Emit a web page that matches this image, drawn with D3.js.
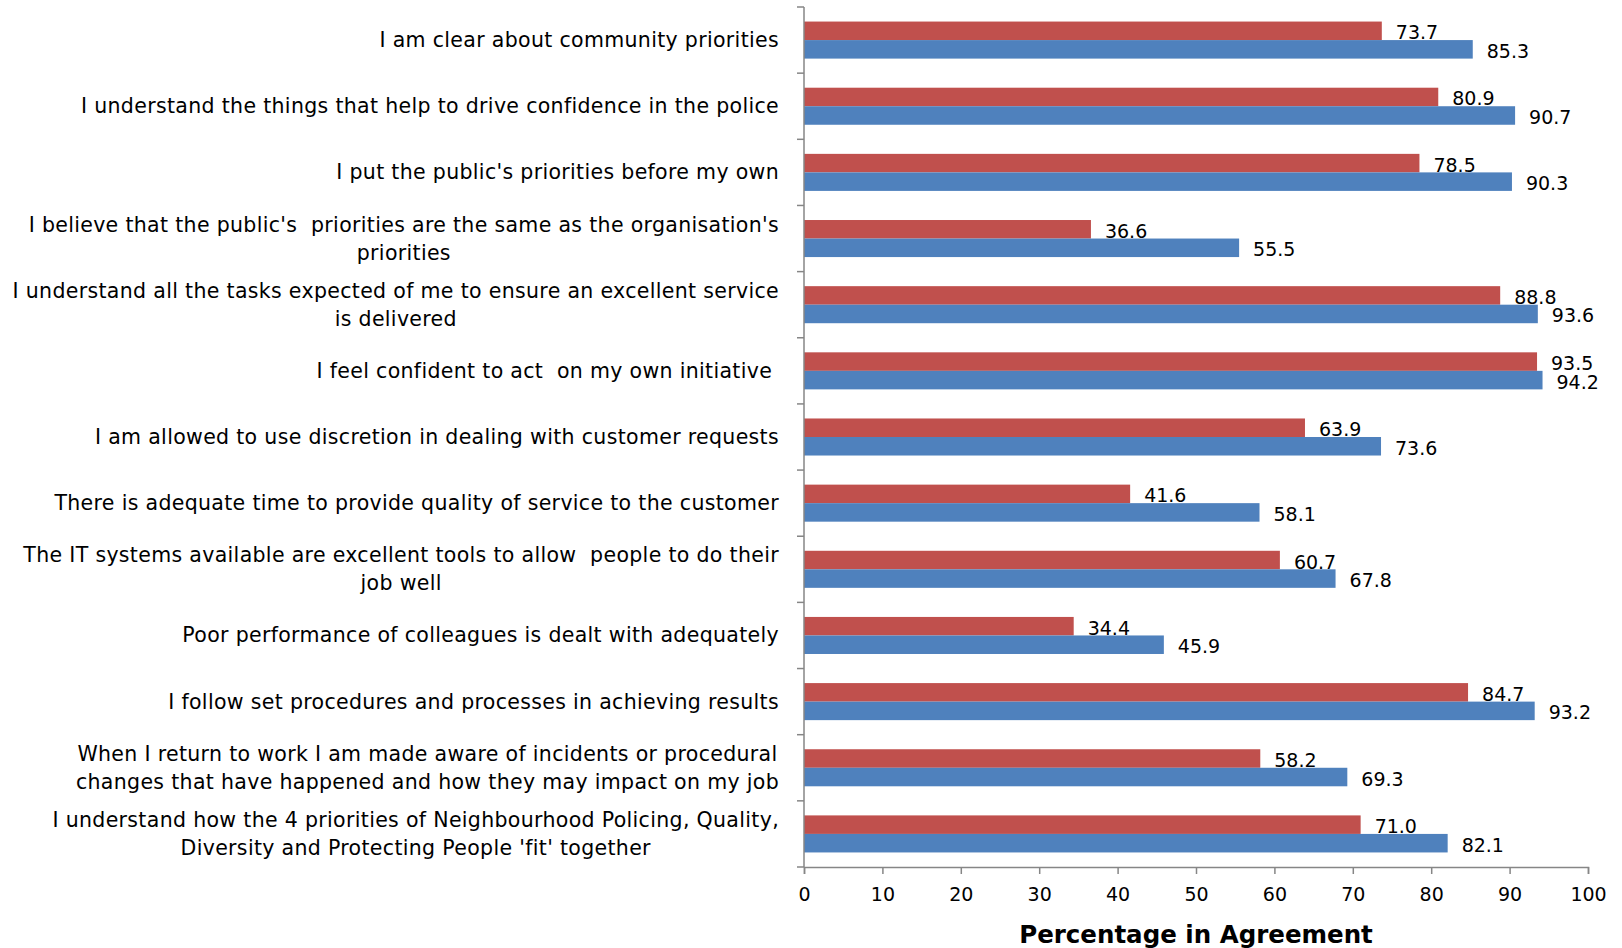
<!DOCTYPE html>
<html>
<head>
<meta charset="utf-8">
<script src="https://cdn.jsdelivr.net/npm/d3@7"></script>
<style>
  html, body { margin: 0; padding: 0; background: #fff; }
  svg { display: block; }
  text { font-family: "DejaVu Sans", Verdana, sans-serif; fill: #000; }
</style>
</head>
<body>
<svg id="chart" width="1622" height="948"></svg>
<script>
// ---- data ----
const categories = [
  ["I am clear about community priorities"],
  ["I understand the things that help to drive confidence in the police"],
  ["I put the public's priorities before my own"],
  ["I believe that the public's  priorities are the same as the organisation's", "priorities"],
  ["I understand all the tasks expected of me to ensure an excellent service", "is delivered"],
  ["I feel confident to act  on my own initiative "],
  ["I am allowed to use discretion in dealing with customer requests"],
  ["There is adequate time to provide quality of service to the customer"],
  ["The IT systems available are excellent tools to allow  people to do their", "job well"],
  ["Poor performance of colleagues is dealt with adequately"],
  ["I follow set procedures and processes in achieving results"],
  ["When I return to work I am made aware of incidents or procedural", "changes that have happened and how they may impact on my job"],
  ["I understand how the 4 priorities of Neighbourhood Policing, Quality,", "Diversity and Protecting People 'fit' together"]
];
const seriesNames = ["Series 1", "Series 2"];
const series1Values = [73.7, 80.9, 78.5, 36.6, 88.8, 93.5, 63.9, 41.6, 60.7, 34.4, 84.7, 58.2, 71.0];
const series2Values = [85.3, 90.7, 90.3, 55.5, 93.6, 94.2, 73.6, 58.1, 67.8, 45.9, 93.2, 69.3, 82.1];
const xTickValues = [0, 10, 20, 30, 40, 50, 60, 70, 80, 90, 100];
const xAxisTitle = "Percentage in Agreement";
const seriesColors = ["#C0504D", "#4F81BD"];

// ---- layout ----
const plot = { left: 804, right: 1588, top: 7, bottom: 867 };
const svg = d3.select("#chart");
const ids = categories.map((_, i) => i);

const x = d3.scaleLinear().domain([0, 100]).range([plot.left, plot.right]);
const y = d3.scaleBand().domain(ids).range([plot.top, plot.bottom])
  .paddingInner(0.44).paddingOuter(0.22);
const ySub = d3.scaleBand().domain(seriesNames).range([0, y.bandwidth()]);

const axisColor = "#868686";

// bars + labels, series by series (later series drawn over earlier labels)
const allValues = [series1Values, series2Values];
allValues.forEach((vals, si) => {
  const g = svg.append("g");
  g.selectAll("rect").data(vals).join("rect")
    .attr("x", x(0))
    .attr("y", (d, i) => y(i) + ySub(seriesNames[si]))
    .attr("width", d => x(d) - x(0))
    .attr("height", ySub.bandwidth())
    .attr("fill", seriesColors[si]);
  g.selectAll("text").data(vals).join("text")
    .attr("x", d => x(d) + 14)
    .attr("y", (d, i) => y(i) + ySub(seriesNames[si]) + ySub.bandwidth() / 2 + 1.5)
    .attr("dominant-baseline", "central")
    .style("font-size", "19px")
    .text(d => d.toFixed(1));
});

// y axis line and ticks between categories
const step = y.step();
const yAxis = svg.append("g").attr("stroke", axisColor).attr("stroke-width", 1.5);
yAxis.append("line")
  .attr("x1", plot.left).attr("x2", plot.left)
  .attr("y1", plot.top).attr("y2", plot.bottom);
yAxis.selectAll("line.tick").data(d3.range(categories.length + 1)).join("line")
  .attr("class", "tick")
  .attr("x1", plot.left - 7).attr("x2", plot.left)
  .attr("y1", i => plot.top + i * step).attr("y2", i => plot.top + i * step);

// category labels
const labelRight = 779;
const lineH = 28;
const catG = svg.append("g").style("font-size", "20.5px").style("letter-spacing", "0.33px");
categories.forEach((lines, i) => {
  const cy = y(i) + y.bandwidth() / 2;
  const t = catG.append("text");
  const spans = lines.map((ln, k) => t.append("tspan").attr("x", 0)
    .attr("y", cy + (k - (lines.length - 1) / 2) * lineH)
    .attr("dominant-baseline", "central")
    .attr("text-anchor", "middle")
    .style("white-space", "pre")
    .text(ln));
  let maxW = 0;
  spans.forEach(s => { maxW = Math.max(maxW, s.node().getComputedTextLength()); });
  spans.forEach(s => s.attr("x", labelRight - maxW / 2));
});

// x axis
const xAxis = d3.axisBottom(x).tickValues(xTickValues).tickSize(7).tickPadding(14)
  .tickFormat(d3.format("d"));
const xg = svg.append("g").attr("transform", `translate(0,${plot.bottom})`).call(xAxis);
xg.select(".domain").attr("stroke", axisColor).attr("stroke-width", 1.5);
xg.selectAll(".tick line").attr("stroke", axisColor).attr("stroke-width", 1.5);
xg.selectAll(".tick text").style("font-size", "19px")
  .style("font-family", "'DejaVu Sans', sans-serif").attr("fill", "#000");

// x axis title
svg.append("text")
  .attr("x", 1196)
  .attr("y", 943)
  .attr("text-anchor", "middle")
  .style("font-size", "24.5px")
  .style("font-weight", "bold")
  .text(xAxisTitle);
</script>
</body>
</html>
